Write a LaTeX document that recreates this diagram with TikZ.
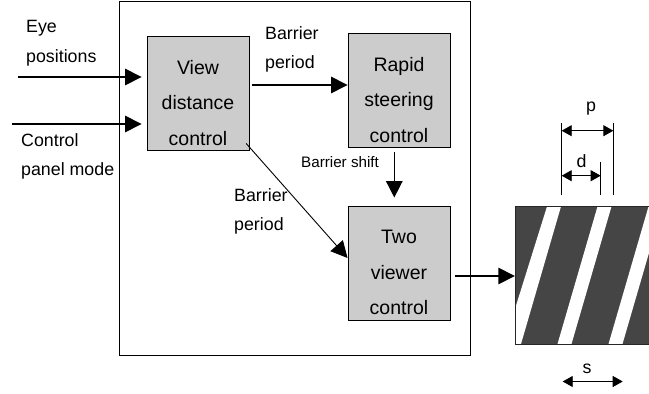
\documentclass[tikz,border=0pt]{standalone}
\usepackage{fontspec}
\setmainfont{Liberation Sans}
\usetikzlibrary{arrows.meta}
\tikzset{
	ctrltext/.style={inner sep=0pt, yshift=-9.5pt, align=center, font=\fontsize{19.5}{35.5}\selectfont},
	ctrl/.style={draw, line width=0.9pt, fill=black!20, minimum width=102pt, minimum height=114pt, inner sep=0pt, label={[ctrltext]center:#1}},
	lab/.style={inner sep=0pt, anchor=west, font=\fontsize{17.8}{21}\selectfont},
	flow/.style={line width=1.5pt, -{Triangle[length=16.5pt, width=16.5pt]}},
	dim/.style={line width=0.9pt, {Triangle[length=10pt, width=11pt]}-{Triangle[length=10pt, width=11pt]}},
	tick/.style={line width=0.9pt}
}
\begin{document}
\begin{tikzpicture}[x=1pt, y=-1pt]
	\useasboundingbox (0,0) rectangle (649,394);
	\node (system) at (294.75,178) [draw, line width=0.9pt, minimum width=351pt, minimum height=354pt, inner sep=0pt] {};
	\node (view) at (198,93.5) [ctrl={View\\distance\\control}] {};
	\node (rapid) at (399,90.5) [ctrl={Rapid\\steering\\control}] {};
	\node (two) at (399,263) [ctrl={Two\\viewer\\control}] {};
	% barrier picture
	\node (barrier) at (582,276) [minimum width=134pt, minimum height=137.5pt, inner sep=0pt] {};
	\begin{scope}
		\clip (515,206.5) rectangle (649,344);
		\fill[black!73] (515,206.5) rectangle (649,344);
		\foreach \x/\l in {507/504,557.5/557.5,608.5/608.5}
			\fill[white] (\l,344) -- (\x+40,206.5) -- (\x+54,206.5) -- (\x+14,344) -- cycle;
	\end{scope}
	\draw[line width=0.9pt, black!85] (649,206.5) -- (515,206.5) -- (515,344) -- (649,344);
	% free ends
	\coordinate (eye) at (18,77);
	\coordinate (panel) at (12,124);
	\coordinate (ptop) at (561.7,123);
	\coordinate (pbot) at (561.7,195);
	\coordinate (qtop) at (613.3,123);
	\coordinate (qbot) at (613.3,195);
	\coordinate (dtop) at (600.7,162);
	\coordinate (dbot) at (600.7,195);
	\coordinate (pl) at (561.7,130.7);
	\coordinate (pr) at (613.3,130.7);
	\coordinate (dl) at (561.7,175.7);
	\coordinate (dr) at (600.7,175.7);
	\coordinate (sl) at (562.7,381.5);
	\coordinate (sr) at (622.7,381.5);
	% connectors
	\draw[flow, shorten >=5pt] (eye) -- (eye -| view.west);
	\draw[flow, shorten >=5pt] (panel) -- (panel -| view.west);
	\draw[flow, shorten <=3pt] ([yshift=8.5pt]view.east) -- ([yshift=5.5pt]rapid.west);
	\draw[flow] ([xshift=-4.7pt, yshift=-4.5pt]rapid.south) -- ([xshift=-4.7pt, yshift=8pt]two.north);
	\draw[line width=0.9pt, -{Triangle[length=16.5pt, width=16.5pt]}] ([xshift=-3.3pt, yshift=7.5pt]view.south east) -- ([yshift=5pt]two.west);
	\draw[flow, shorten <=5pt] (two.east |- barrier.west) -- (barrier.west);
	% dimensions
	\draw[tick] (ptop) -- (pbot);
	\draw[tick] (qtop) -- (qbot);
	\draw[tick] (dtop) -- (dbot);
	\draw[dim] (pl) -- (pr);
	\draw[dim] (dl) -- (dr);
	\draw[dim] (sl) -- (sr);
	% labels
	\node (eyelab) at (26,28) [lab] {Eye};
	\node (poslab) at (26,58) [lab] {positions};
	\node (ctllab) at (21,140) [lab] {Control};
	\node (pnllab) at (21,171) [lab] {panel mode};
	\node (barlab) at (265,33) [lab] {Barrier};
	\node (perlab) at (265,64) [lab] {period};
	\node (bar2lab) at (234,195) [lab] {Barrier};
	\node (per2lab) at (234,226) [lab] {period};
	\node (shiftlab) at (301,162) [lab, font=\fontsize{15.2}{18}\selectfont] {Barrier shift};
	\node (plab) at (591,109) [lab, anchor=center] {p};
	\node (dlab) at (581.5,161) [lab, anchor=center] {d};
	\node (slab) at (587,368.5) [lab, anchor=center] {s};
\end{tikzpicture}
\end{document}
